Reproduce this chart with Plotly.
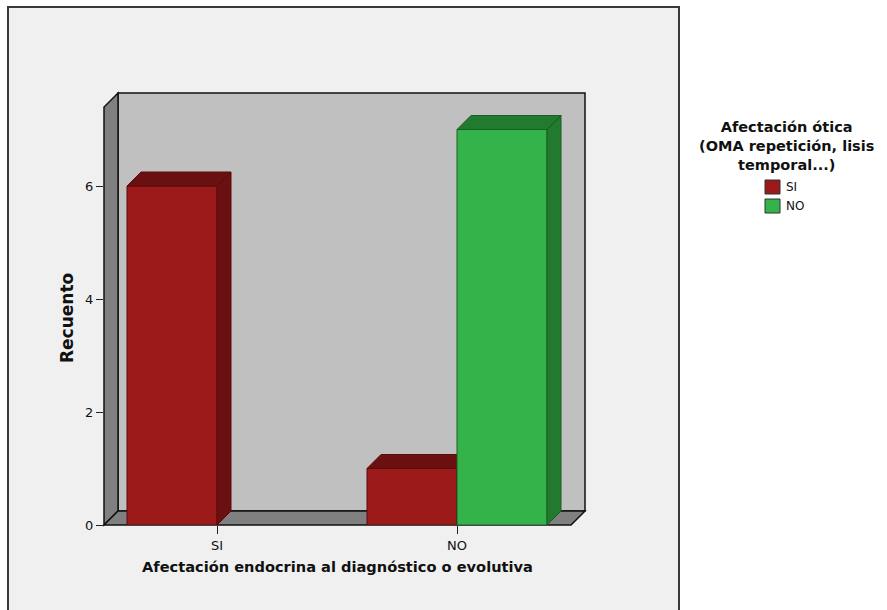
import plotly.graph_objects as go

# ---------------- data ----------------
categories = ["SI", "NO"]                 # Afectación endocrina
series_names = ["SI", "NO"]               # Afectación ótica
values_si = [6, 1]
values_no = [0, 7]
y_ticks = [0, 2, 4, 6]

x_title = "Afectación endocrina al diagnóstico o evolutiva"
y_title = "Recuento"
legend_title_lines = ["Afectación ótica", "(OMA repetición, lisis", "temporal...)"]

# ---------------- style ----------------
W, H = 887, 610
PL, PR, PT, PB = 104, 585, 93, 525          # plot area in pixels
X_RANGE = [(104 - 217) / 240, (585 - 217) / 240]
Y_RANGE = [0, (PB - PT) / 56.5]
DX = 14 / 240                               # 3D depth in x data units
DY = 14 / 56.5                              # 3D depth in y data units
BAR_W = 0.375

front_colors = ["#9c1a1a", "#34b34a"]
shade_colors = ["#6a1010", "#217a2e"]
edge_colors = ["#5a0c0c", "#1a5e24"]

FONT = "DejaVu Sans, Liberation Sans, Arial, sans-serif"


def px(x):
    return (x - PL) / (PR - PL)


def py(y):
    return (PB - y) / (PB - PT)


fig = go.Figure()

series_values = [values_si, values_no]
offsets = [-BAR_W, 0.0]

# draw bars category by category, series in order (so later bars cover earlier side faces)
for ci, cat in enumerate(categories):
    for si, vals in enumerate(series_values):
        v = vals[ci]
        if v <= 0:
            continue
        x0 = ci + offsets[si]
        x1 = x0 + BAR_W
        # front face
        fig.add_trace(go.Scatter(
            x=[x0, x1, x1, x0, x0], y=[0, 0, v, v, 0],
            mode="lines", fill="toself", fillcolor=front_colors[si],
            line=dict(color=edge_colors[si], width=1),
            hoverinfo="skip", showlegend=False))
        # top + side faces
        fig.add_trace(go.Scatter(
            x=[x0, x0 + DX, x1 + DX, x1, x0, None,
               x1, x1 + DX, x1 + DX, x1, x1],
            y=[v, v + DY, v + DY, v, v, None,
               0, DY, v + DY, v, 0],
            mode="lines", fill="toself", fillcolor=shade_colors[si],
            line=dict(color=edge_colors[si], width=1),
            hoverinfo="skip", showlegend=False))

shapes = []
# outer chart frame
shapes.append(dict(type="rect", xref="paper", yref="paper",
                   x0=px(8), x1=px(679), y0=py(620), y1=py(7),
                   fillcolor="#f0f0f0", line=dict(color="#3a3a3a", width=2),
                   layer="below"))
# back wall
shapes.append(dict(type="rect", xref="paper", yref="paper",
                   x0=px(118), x1=px(585), y0=py(511), y1=py(93),
                   fillcolor="#c0c0c0", line=dict(color="#111111", width=1.5),
                   layer="below"))
# left wall
shapes.append(dict(type="path", xref="paper", yref="paper",
                   path=f"M {px(104)},{py(525)} L {px(118)},{py(511)} L {px(118)},{py(93)} L {px(104)},{py(107)} Z",
                   fillcolor="#808080", line=dict(color="#111111", width=1.5),
                   layer="below"))
# floor
shapes.append(dict(type="path", xref="paper", yref="paper",
                   path=f"M {px(104)},{py(525)} L {px(118)},{py(511)} L {px(585)},{py(511)} L {px(571)},{py(525)} Z",
                   fillcolor="#808080", line=dict(color="#111111", width=1.5),
                   layer="below"))

# legend swatches
sw_y = [(180, 194), (199, 213)]
for i, name in enumerate(series_names):
    shapes.append(dict(type="rect", xref="paper", yref="paper",
                       x0=px(765), x1=px(780), y0=py(sw_y[i][1]), y1=py(sw_y[i][0]),
                       fillcolor=front_colors[i], line=dict(color="#333333", width=1)))

annotations = []
annotations.append(dict(text=x_title, xref="paper", yref="paper",
                        x=px(337), y=py(566), xanchor="center", yanchor="middle",
                        showarrow=False, font=dict(family=FONT, size=14.6, color="#111111", weight="bold")))
annotations.append(dict(text=y_title, xref="paper", yref="paper",
                        x=px(67), y=py(318), xanchor="center", yanchor="middle", textangle=-90,
                        showarrow=False, font=dict(family=FONT, size=17, color="#111111", weight="bold")))
annotations.append(dict(text="<br>".join(legend_title_lines), xref="paper", yref="paper",
                        x=px(786), y=py(146), xanchor="center", yanchor="middle", align="center",
                        showarrow=False,
                        font=dict(family=FONT, size=14.5, color="#111111", weight="bold")))
for i, name in enumerate(series_names):
    annotations.append(dict(text=name, xref="paper", yref="paper",
                            x=px(784), y=py((sw_y[i][0] + sw_y[i][1]) / 2), xanchor="left", yanchor="middle",
                            showarrow=False, font=dict(family=FONT, size=12, color="#111111")))

fig.update_layout(
    width=W, height=H,
    margin=dict(l=PL, r=W - PR, t=PT, b=H - PB, pad=0),
    paper_bgcolor="white", plot_bgcolor="rgba(0,0,0,0)",
    showlegend=False,
    shapes=shapes, annotations=annotations,
    xaxis=dict(range=X_RANGE, tickmode="array", tickvals=list(range(len(categories))),
               ticktext=categories, ticks="outside", ticklen=8, tickcolor="#222222",
               showgrid=False, zeroline=False, showline=False, fixedrange=True,
               tickfont=dict(family=FONT, size=13, color="#111111")),
    yaxis=dict(range=Y_RANGE, tickmode="array", tickvals=y_ticks,
               ticks="outside", ticklen=7, tickcolor="#222222",
               showgrid=False, zeroline=False, showline=False, fixedrange=True,
               tickfont=dict(family=FONT, size=13, color="#111111")),
)

fig.write_html("out.html")
